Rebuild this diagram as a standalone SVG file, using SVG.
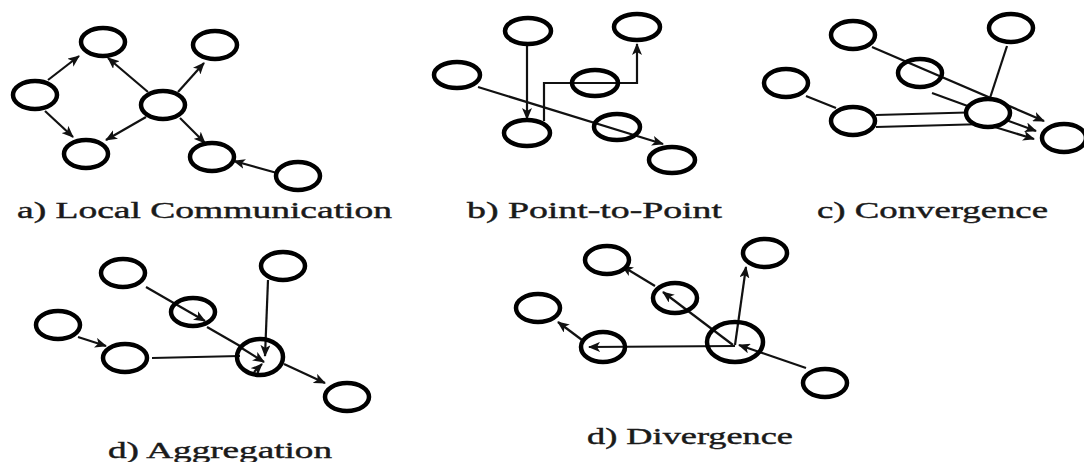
<svg xmlns="http://www.w3.org/2000/svg" width="1084" height="462" viewBox="0 0 1084 462">
<style>
.n{fill:#fff;stroke:#000;stroke-width:4.5}
.c{fill:none;stroke:#111;stroke-width:2.2}
.a{marker-end:url(#ah)}
.t{font-family:"Liberation Serif","Times New Roman",serif;font-size:23px;fill:#1a1a1a;stroke:#1a1a1a;stroke-width:0.4}
</style>
<defs>
<marker id="ah" markerUnits="userSpaceOnUse" markerWidth="12" markerHeight="10" refX="11" refY="5" orient="auto">
<path d="M0,0 L12,5 L0,10 L3,5 z" fill="#111"/>
</marker>
</defs>
<rect width="1084" height="462" fill="#fff"/>
<g id="connectors">
<!-- a -->
<line class="c a" x1="48" y1="80" x2="79" y2="56"/>
<line class="c a" x1="45" y1="111" x2="73" y2="137"/>
<line class="c a" x1="148" y1="92" x2="108" y2="58"/>
<line class="c a" x1="178" y1="92" x2="204" y2="63"/>
<line class="c a" x1="146" y1="117" x2="106" y2="140"/>
<line class="c a" x1="180" y1="118" x2="205" y2="143"/>
<line class="c a" x1="277" y1="173" x2="234" y2="161"/>
<!-- b -->
<line class="c a" x1="527" y1="46" x2="527" y2="119"/>
<polyline class="c a" points="544,121 544,83 637,83 637,44"/>
<line class="c a" x1="478" y1="87" x2="663" y2="144"/>
<!-- c -->
<line class="c" x1="806" y1="96" x2="836" y2="108"/>
<line class="c" x1="1007" y1="46" x2="990" y2="98"/>
<line class="c a" x1="872" y1="47" x2="1044" y2="121"/>
<line class="c a" x1="932" y1="93" x2="1036" y2="131"/>
<line class="c" x1="876" y1="115" x2="985" y2="112"/>
<polyline class="c a" points="876,127 985,124 1034,139"/>
<!-- d -->
<line class="c a" x1="78" y1="337" x2="106" y2="346"/>
<line class="c a" x1="146" y1="287" x2="205" y2="321"/>
<line class="c" x1="207" y1="327" x2="240" y2="346"/>
<line class="c a" x1="284" y1="364" x2="325" y2="383"/>
<line class="c a" x1="268" y1="280" x2="265" y2="356"/>
<line class="c" x1="152" y1="358" x2="240" y2="356"/>
<line class="c a" x1="240" y1="347" x2="264" y2="362"/>
<line class="c a" x1="254" y1="372" x2="262" y2="364"/>
<!-- e -->
<line class="c a" x1="735" y1="345" x2="746" y2="267"/>
<line class="c a" x1="733" y1="345" x2="663" y2="292"/>
<line class="c a" x1="655" y1="286" x2="622" y2="266"/>
<line class="c a" x1="735" y1="346" x2="589" y2="347"/>
<line class="c a" x1="582" y1="340" x2="558" y2="322"/>
<line class="c a" x1="806" y1="368" x2="739" y2="345"/>
</g>
<g id="a-nodes">
<g id="a1"><ellipse class="n" cx="103" cy="42" rx="22" ry="14"/></g>
<g id="a2"><ellipse class="n" cx="215" cy="45" rx="22" ry="14"/></g>
<g id="a3"><ellipse class="n" cx="35" cy="95" rx="22" ry="14"/></g>
<g id="a4"><ellipse class="n" cx="163" cy="105" rx="22" ry="14"/></g>
<g id="a5"><ellipse class="n" cx="86" cy="154" rx="22" ry="14"/></g>
<g id="a6"><ellipse class="n" cx="212" cy="157" rx="22" ry="14"/></g>
<g id="a7"><ellipse class="n" cx="298" cy="176" rx="22" ry="14"/></g>
</g>
<g id="b-nodes">
<g id="b1"><ellipse class="n" cx="528" cy="31" rx="23" ry="13"/></g>
<g id="b2"><ellipse class="n" cx="637" cy="27" rx="23" ry="13"/></g>
<g id="b3"><ellipse class="n" cx="457" cy="75" rx="23" ry="13"/></g>
<g id="b4"><ellipse class="n" cx="595" cy="83" rx="23" ry="13" fill-opacity="0"/></g>
<g id="b5"><ellipse class="n" cx="527" cy="133" rx="23" ry="13"/></g>
<g id="b6"><ellipse class="n" cx="617" cy="127" rx="23" ry="13" fill-opacity="0"/></g>
<g id="b7"><ellipse class="n" cx="672" cy="160" rx="23" ry="13"/></g>
</g>
<g id="c-nodes">
<g id="c1"><ellipse class="n" cx="853" cy="35" rx="22" ry="14"/></g>
<g id="c2"><ellipse class="n" cx="1011" cy="28" rx="22" ry="14"/></g>
<g id="c3"><ellipse class="n" cx="786" cy="83" rx="22" ry="14"/></g>
<g id="c4"><ellipse class="n" cx="920" cy="73" rx="22" ry="14" fill-opacity="0"/></g>
<g id="c5"><ellipse class="n" cx="853" cy="121" rx="22" ry="14"/></g>
<g id="c6"><ellipse class="n" cx="988" cy="113" rx="22" ry="14"/></g>
<g id="c7"><ellipse class="n" cx="1064" cy="138" rx="22" ry="14"/></g>
</g>
<g id="d-nodes">
<g id="d1"><ellipse class="n" cx="123" cy="273" rx="22" ry="14"/></g>
<g id="d2"><ellipse class="n" cx="283" cy="266" rx="22" ry="14"/></g>
<g id="d3"><ellipse class="n" cx="58" cy="325" rx="22" ry="14"/></g>
<g id="d4"><ellipse class="n" cx="193" cy="312" rx="22" ry="14" fill-opacity="0"/></g>
<g id="d5"><ellipse class="n" cx="125" cy="358" rx="22" ry="14"/></g>
<g id="d6"><ellipse class="n" cx="260" cy="357" rx="23" ry="18" fill-opacity="0"/></g>
<g id="d7"><ellipse class="n" cx="347" cy="397" rx="22" ry="14"/></g>
</g>
<g id="e-nodes">
<g id="e1"><ellipse class="n" cx="607" cy="260" rx="22" ry="14"/></g>
<g id="e2"><ellipse class="n" cx="765" cy="253" rx="22" ry="14"/></g>
<g id="e3"><ellipse class="n" cx="538" cy="308" rx="22" ry="14"/></g>
<g id="e4"><ellipse class="n" cx="675" cy="298" rx="22" ry="15" fill-opacity="0"/></g>
<g id="e5"><ellipse class="n" cx="603" cy="347" rx="22" ry="15" fill-opacity="0"/></g>
<g id="e6"><ellipse class="n" cx="735" cy="342" rx="28" ry="20" fill-opacity="0"/></g>
<g id="e7"><ellipse class="n" cx="825" cy="383" rx="22" ry="14"/></g>
</g>
<g id="labels">
<text class="t" x="17" y="218" textLength="375" lengthAdjust="spacingAndGlyphs">a) Local Communication</text>
<text class="t" x="467" y="218" textLength="255" lengthAdjust="spacingAndGlyphs">b) Point-to-Point</text>
<text class="t" x="817" y="218" textLength="231" lengthAdjust="spacingAndGlyphs">c) Convergence</text>
<text class="t" x="108" y="458" textLength="224" lengthAdjust="spacingAndGlyphs">d) Aggregation</text>
<text class="t" x="587" y="444" textLength="206" lengthAdjust="spacingAndGlyphs">d) Divergence</text>
</g>
</svg>
